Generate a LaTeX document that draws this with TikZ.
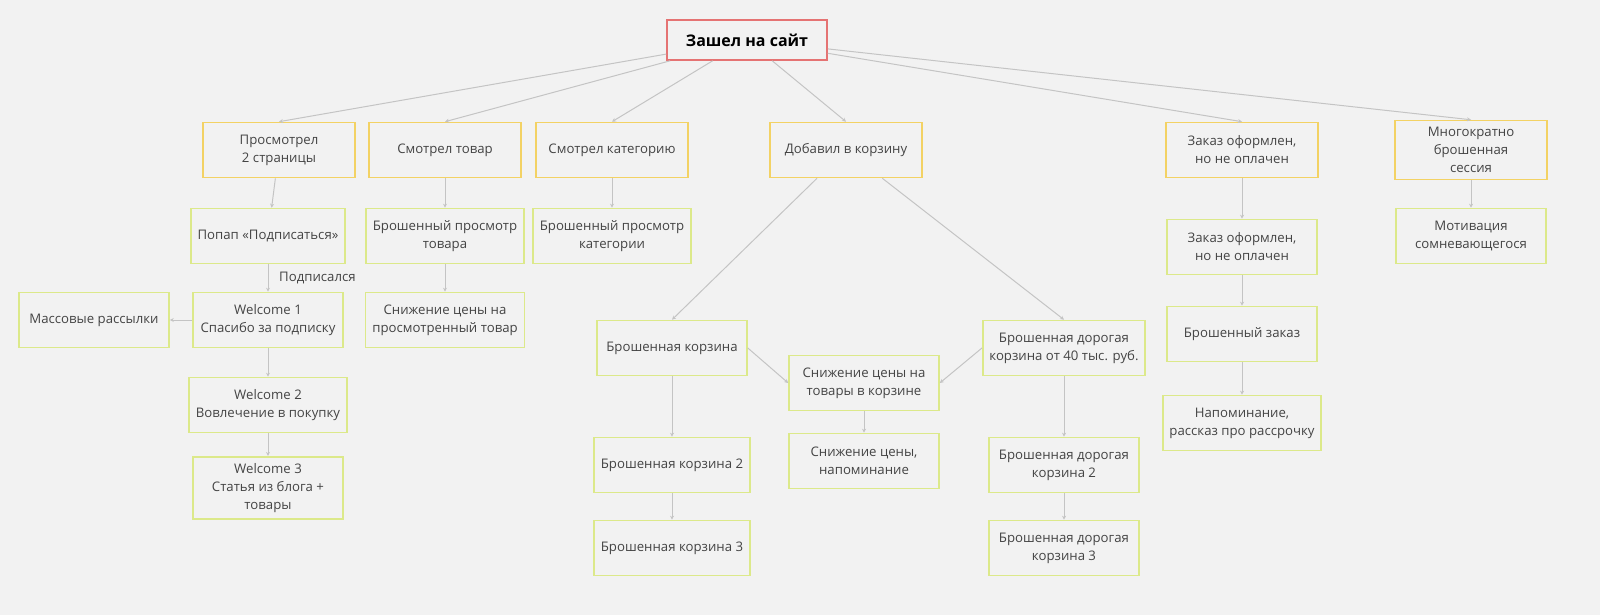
\documentclass[tikz,border=0pt]{standalone}
\usepackage{fontspec}
\setmainfont{Open Sans}
\usetikzlibrary{arrows.meta,positioning}
\definecolor{bgcol}{HTML}{F2F2F2}
\definecolor{rootcol}{HTML}{E57373}
\definecolor{stagecol}{HTML}{F3D264}
\definecolor{mailcol}{HTML}{DCE98A}
\definecolor{linkcol}{HTML}{C4C4C4}
\definecolor{txtcol}{HTML}{444444}

\begin{document}
\begin{tikzpicture}[
    x=0.5pt, y=-0.5pt,
    every node/.style={font=\fontsize{6.6}{9}\selectfont, text=txtcol, align=center},
    rootbox/.style={draw=rootcol, line width=0.8pt, fill=bgcol, minimum width=80pt, minimum height=20pt, font=\fontsize{8}{10}\selectfont\bfseries, text=black},
    stagebox/.style={draw=stagecol, line width=0.8pt, minimum width=76pt, minimum height=27.5pt},
    mailbox/.style={draw=mailcol, line width=0.8pt, minimum width=75pt, minimum height=27.5pt},
    link/.style={draw=linkcol, line width=0.5pt, -{Stealth[length=2pt,width=2pt]}}
  ]
    \fill[bgcol] (0,0) rectangle (1600,615);
    \node[rootbox] (site) at (747,40) {Зашел на сайт};
    % first level
    \node[stagebox] (pages) at (279,150) {Просмотрел\\2 страницы};
    \node[stagebox] (item) at (445,150) {Смотрел товар};
    \node[stagebox] (categ) at (612,150) {Смотрел категорию};
    \node[stagebox] (cart) at (846,150) {Добавил в корзину};
    \node[stagebox] (order) at (1242,150) {Заказ оформлен,\\но не оплачен};
    \node[stagebox] (multi) at (1471,150) {Многократно\\брошенная\\сессия};
    % mails
    \node[mailbox] (popup) at (268,236) {Попап «Подписаться»};
    \node[mailbox] (welA) at (268,320) {Welcome 1\\Спасибо за подписку};
    \node[mailbox] (mass) at (94,320) {Массовые рассылки};
    \node[mailbox] (welB) at (268,405) {Welcome 2\\Вовлечение в покупку};
    \node[mailbox] (welC) at (268,488) {Welcome 3\\Статья из блога +\\товары};
    \node[mailbox] (itemA) at (445,236) {Брошенный просмотр\\товара};
    \node[mailbox] (itemB) at (445,320) {Снижение цены на\\просмотренный товар};
    \node[mailbox] (categA) at (612,236) {Брошенный просмотр\\категории};
    \node[mailbox] (cartA) at (672,348) {Брошенная корзина};
    \node[mailbox] (cartB) at (672,465) {Брошенная корзина 2};
    \node[mailbox] (cartC) at (672,548) {Брошенная корзина 3};
    \node[mailbox] (sale) at (864,383) {Снижение цены на\\товары в корзине};
    \node[mailbox] (saleB) at (864,461) {Снижение цены,\\напоминание};
    \node[mailbox] (richA) at (1064,348) {Брошенная дорогая\\корзина от 40 тыс. руб.};
    \node[mailbox] (richB) at (1064,465) {Брошенная дорогая\\корзина 2};
    \node[mailbox] (richC) at (1064,548) {Брошенная дорогая\\корзина 3};
    \node[mailbox] (orderA) at (1242,247) {Заказ оформлен,\\но не оплачен};
    \node[mailbox] (orderB) at (1242,334) {Брошенный заказ};
    \node[mailbox] (orderC) at (1242,423) {Напоминание,\\рассказ про рассрочку};
    \node[mailbox] (doubt) at (1471,236) {Мотивация\\сомневающегося};
    % links
    \foreach \t in {pages,item,categ,cart,order,multi}
      \draw[link] (site) -- (\t.north);
    \draw[link] (pages) -- (popup);
    \draw[link] (popup) -- node[right, xshift=2pt]{Подписался} (welA);
    \draw[link] (welA) -- (mass);
    \draw[link] (welA) -- (welB);
    \draw[link] (welB) -- (welC);
    \draw[link] (item) -- (itemA);
    \draw[link] (itemA) -- (itemB);
    \draw[link] (categ) -- (categA);
    \draw[link] (cart) -- (cartA.north);
    \draw[link] (cart) -- (richA.north);
    \draw[link] (cartA.east) -- (sale.west);
    \draw[link] (richA.west) -- (sale.east);
    \draw[link] (cartA) -- (cartB);
    \draw[link] (cartB) -- (cartC);
    \draw[link] (sale) -- (saleB);
    \draw[link] (richA) -- (richB);
    \draw[link] (richB) -- (richC);
    \draw[link] (order) -- (orderA);
    \draw[link] (orderA) -- (orderB);
    \draw[link] (orderB) -- (orderC);
    \draw[link] (multi) -- (doubt);
  \end{tikzpicture}
\end{document}
